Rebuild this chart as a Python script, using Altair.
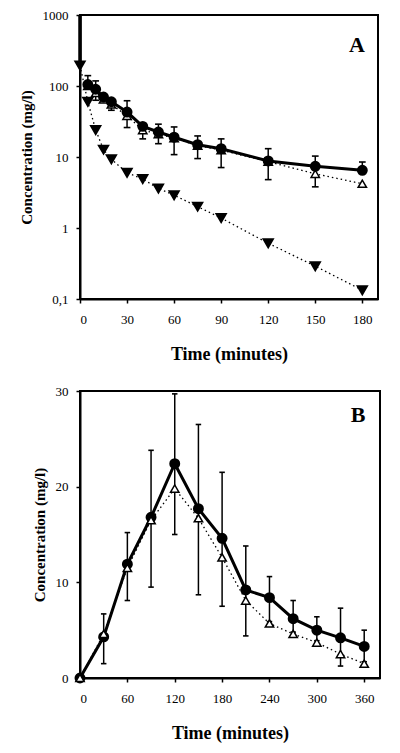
import altair as alt
import pandas as pd

# ---------- Panel A data ----------
tA = [5, 10, 15, 20, 30, 40, 50, 60, 75, 90, 120, 150, 180]
circA = [105, 90, 70, 60, 43, 27, 22.5, 19, 14.9, 13.1, 8.8, 7.4, 6.5]
circA_hi = [140, 118, None, None, 62, None, 29, 26.5, 19.8, 18, 13.1, 10.3, 8.5]
openA = [100, 80, 65, 55, 38, 24, 21, 18.5, 14.5, 12.5, 8.6, 5.8, 4.2]
openA_lo = [None, 63, None, 45.5, 26, 18, 15.4, 10.8, 9.5, 7.1, 4.8, 3.8, None]
tA_tri = [0, 5, 10, 15, 20, 30, 40, 50, 60, 75, 90, 120, 150, 180]
triA = [195, 60, 24, 12.7, 9.3, 6.0, 4.9, 3.6, 2.9, 2.0, 1.38, 0.61, 0.29, 0.133]
doseA_t = [0]
doseA_top = [1000]

# ---------- Panel B data ----------
tB = [0, 30, 60, 90, 120, 150, 180, 210, 240, 270, 300, 330, 360]
circB = [0, 4.3, 11.9, 16.8, 22.4, 17.7, 14.6, 9.2, 8.4, 6.2, 5.0, 4.2, 3.3]
openB = [0, 4.6, 11.5, 16.5, 19.8, 16.7, 12.6, 8.1, 5.7, 4.6, 3.7, 2.5, 1.5]
errB_lo = [None, 1.5, 8.1, 9.5, 15.0, 8.7, 7.5, 4.4, 5.9, 4.8, 3.9, 1.25, 1.7]
errB_hi = [None, 6.7, 15.2, 23.8, 29.7, 26.5, 21.5, 13.8, 10.6, 8.1, 6.4, 7.3, 5.0]

FONT = "Liberation Serif"

dfA_c = pd.DataFrame({"t": tA, "v": circA, "hi": circA_hi})
dfA_o = pd.DataFrame({"t": tA, "v": openA, "lo": openA_lo})
dfA_t = pd.DataFrame({"t": tA_tri, "v": triA})
dfA_d = pd.DataFrame({"t": doseA_t, "v": [triA[0]], "top": doseA_top})
dfB_c = pd.DataFrame({"t": tB, "v": circB})
dfB_o = pd.DataFrame({"t": tB, "v": openB})
dfB_e = pd.DataFrame({"t": tB, "lo": errB_lo, "hi": errB_hi}).dropna()

CAP = "M -1 0 L 1 0"
yScA = alt.Scale(type="log", domain=[0.1, 1000], nice=False)

xA = alt.X("t:Q", scale=alt.Scale(domain=[0, 190], nice=False),
           axis=alt.Axis(values=[0, 30, 60, 90, 120, 150, 180], title="Time (minutes)"))
yA = alt.Y("v:Q", scale=yScA,
           axis=alt.Axis(values=[0.1, 1, 10, 100, 1000], title="Concentration (mg/l)",
                         labelExpr="datum.value == 0.1 ? '0,1' : format(datum.value, 'd')"))

lineA_tri = alt.Chart(dfA_t).mark_line(color="black", strokeWidth=1.3, strokeDash=[1.5, 3]).encode(x=xA, y=yA)
doseA = alt.Chart(dfA_d).mark_rule(color="black", strokeWidth=3.5).encode(x=xA, y=yA, y2="top:Q")
lineA_open = alt.Chart(dfA_o).mark_line(color="black", strokeWidth=1.3, strokeDash=[1.5, 3]).encode(x=xA, y=yA)
lineA_circ = alt.Chart(dfA_c).mark_line(color="black", strokeWidth=3).encode(x=xA, y=yA)

errA_up = alt.Chart(dfA_c.dropna()).mark_rule(color="black", strokeWidth=1.5).encode(
    x=xA, y=yA, y2="hi:Q")
capA_up = alt.Chart(dfA_c.dropna()).mark_point(shape=CAP, size=45, stroke="black", strokeWidth=1.6, filled=False, opacity=1).encode(
    x=xA, y=alt.Y("hi:Q", scale=yScA))
errA_dn = alt.Chart(dfA_o.dropna()).mark_rule(color="black", strokeWidth=1.5).encode(
    x=xA, y=yA, y2="lo:Q")
capA_dn = alt.Chart(dfA_o.dropna()).mark_point(shape=CAP, size=45, stroke="black", strokeWidth=1.6, filled=False, opacity=1).encode(
    x=xA, y=alt.Y("lo:Q", scale=yScA))

ptsA_open = alt.Chart(dfA_o).mark_point(shape="triangle-up", size=70, fill="white", stroke="black",
                                        strokeWidth=1.5, filled=False, opacity=1, fillOpacity=1).encode(x=xA, y=yA)
ptsA_circ = alt.Chart(dfA_c).mark_point(shape="circle", size=80, fill="black", stroke="black",
                                        filled=True, opacity=1).encode(x=xA, y=yA)
ptsA_tri = alt.Chart(dfA_t).mark_point(shape="triangle-down", size=85, fill="black", stroke="black",
                                       filled=True, opacity=1).encode(x=xA, y=yA)
labA = alt.Chart(pd.DataFrame({"s": ["A"]})).mark_text(
    font=FONT, fontSize=22, fontWeight="bold", color="black", align="center", baseline="middle"
).encode(x=alt.value(277), y=alt.value(30), text="s:N")

panelA = alt.layer(lineA_tri, doseA, lineA_open, lineA_circ, errA_up, capA_up, errA_dn, capA_dn,
                   ptsA_open, ptsA_circ, ptsA_tri, labA).properties(width=298, height=284)

xB = alt.X("t:Q", scale=alt.Scale(domain=[0, 380], nice=False),
           axis=alt.Axis(values=[0, 60, 120, 180, 240, 300, 360], title="Time (minutes)"))
yB = alt.Y("v:Q", scale=alt.Scale(domain=[0, 30], nice=False),
           axis=alt.Axis(values=[0, 10, 20, 30], title="Concentration (mg/l)"))
ySc = alt.Scale(domain=[0, 30], nice=False)

lineB_open = alt.Chart(dfB_o).mark_line(color="black", strokeWidth=1.3, strokeDash=[1.5, 3]).encode(x=xB, y=yB)
lineB_circ = alt.Chart(dfB_c).mark_line(color="black", strokeWidth=3).encode(x=xB, y=yB)
errB = alt.Chart(dfB_e).mark_rule(color="black", strokeWidth=1.5).encode(
    x=xB, y=alt.Y("lo:Q", scale=ySc), y2="hi:Q")
capB_hi = alt.Chart(dfB_e).mark_point(shape=CAP, size=30, stroke="black", strokeWidth=1.6, filled=False, opacity=1).encode(
    x=xB, y=alt.Y("hi:Q", scale=ySc))
capB_lo = alt.Chart(dfB_e).mark_point(shape=CAP, size=30, stroke="black", strokeWidth=1.6, filled=False, opacity=1).encode(
    x=xB, y=alt.Y("lo:Q", scale=ySc))
ptsB_circ = alt.Chart(dfB_c).mark_point(shape="circle", size=80, fill="black", stroke="black",
                                        filled=True, opacity=1).encode(x=xB, y=yB)
ptsB_open = alt.Chart(dfB_o).mark_point(shape="triangle-up", size=70, fill="white", stroke="black",
                                        strokeWidth=1.5, filled=False, opacity=1, fillOpacity=1).encode(x=xB, y=yB)
labB = alt.Chart(pd.DataFrame({"s": ["B"]})).mark_text(
    font=FONT, fontSize=22, fontWeight="bold", color="black", align="center", baseline="middle"
).encode(x=alt.value(278), y=alt.value(24), text="s:N")

panelB = alt.layer(lineB_open, lineB_circ, errB, capB_hi, capB_lo, ptsB_circ, ptsB_open, labB
                   ).properties(width=300, height=287)

chart = alt.vconcat(panelA, panelB, spacing=20).properties(
    padding={"left": 10, "top": 0, "right": 5, "bottom": 5}
).configure_view(
    stroke="black", strokeWidth=2
).configure_axis(
    labelFont=FONT, labelFontSize=13, labelColor="black",
    titleFont=FONT, titleFontSize=15, titleFontWeight="bold", titleColor="black",
    domainColor="black", domainWidth=2, tickColor="black", tickSize=4, tickWidth=1.5,
    grid=False, labelPadding=8, titlePadding=8
).configure_axisX(
    labelPadding=10, titlePadding=19, titleFontSize=18
).configure_concat(spacing=20)

chart.save("out.html", embed_options={"renderer": "svg", "actions": False})
